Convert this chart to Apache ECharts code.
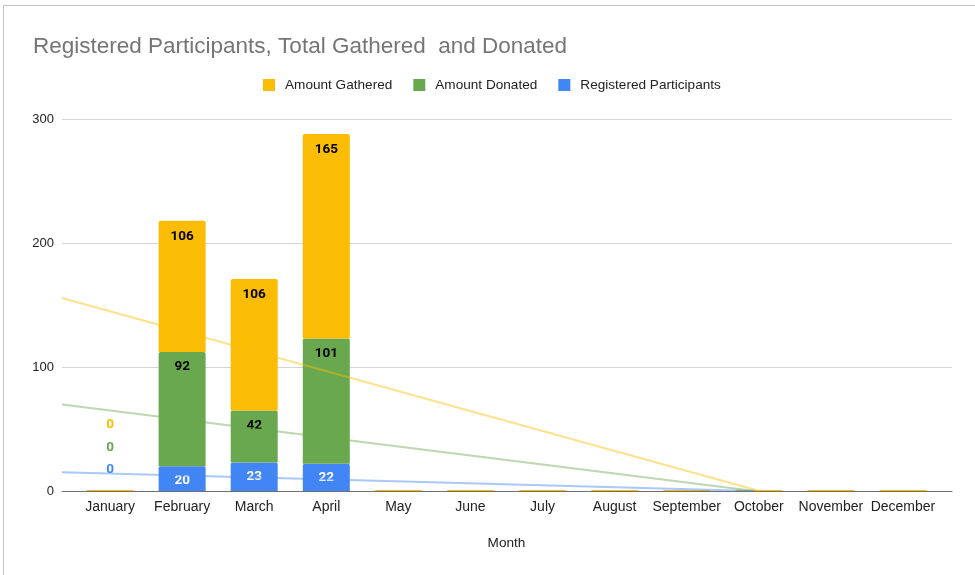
<!DOCTYPE html>
<html><head><meta charset="utf-8">
<script src="https://cdn.jsdelivr.net/npm/echarts@6/dist/echarts.min.js"></script>
<style>html,body{margin:0;padding:0;background:#fff}#c{width:975px;height:575px}</style>
</head><body><div id="c"></div>
<script>
const months = ['January','February','March','April','May','June','July','August','September','October','November','December'];
const registeredParticipants = [0,20,23,22,0,0,0,0,0,0,0,0];
const amountDonated = [0,92,42,101,0,0,0,0,0,0,0,0];
const amountGathered = [0,106,106,165,0,0,0,0,0,0,0,0];
const yTicks = [0,100,200,300];

const COL = {gathered:'#fbbc04', donated:'#6aa84f', part:'#4285f4'};

// plot geometry (layout)
const outerL = 62, outerR = 952, bandL = 74, bandR = 939, plotTop = 119, plotBottom = 491;
const bandW = (bandR - bandL) / months.length;
const xStart = -0.5 - (bandL - outerL) / bandW;
const xEnd = months.length - 0.5 + (outerR - bandR) / bandW;

// trendlines (linear least squares on stacked totals), clipped at 0 like the source chart
function stackTops(arrs){ return months.map((_,i)=>arrs.reduce((s,a)=>s+a[i],0)); }
function trend(vals){
  const n = vals.length; let mx=0,my=0;
  vals.forEach((v,i)=>{mx+=i;my+=v;}); mx/=n; my/=n;
  let sxy=0,sxx=0; vals.forEach((v,i)=>{sxy+=(i-mx)*(v-my);sxx+=(i-mx)*(i-mx);});
  const b = sxy/sxx, a = my - b*mx;
  const xZero = -a/b;
  return [[xStart, a+b*xStart],[xZero, 0]];
}
const trendPart = trend(registeredParticipants);
const trendDon = trend(stackTops([registeredParticipants, amountDonated]));
const trendGat = trend(stackTops([registeredParticipants, amountDonated, amountGathered]));

function barData(arr, color, off){
  return arr.map((v,i)=> i===0 ? {value:v, label:{show:true, position:'top', distance:5, offset:[0,off], color:color}} : v);
}
const labelFmt = p => (p.value===0 && p.dataIndex!==0) ? '' : String(p.value);
const baseLabel = (color, d) => ({show:true, position:'insideTop', distance:d, color:color, fontFamily:'Roboto', fontWeight:'bold', fontSize:13.5, formatter:labelFmt});
const FONT = 'Liberation Sans, Arial';

const chart = echarts.init(document.getElementById('c'), null, {renderer:'canvas'});
chart.setOption({
  animation:false,
  backgroundColor:'#fff',
  title:{text:'Registered Participants, Total Gathered  and Donated', left:28, top:30,
    textStyle:{fontFamily:FONT, fontSize:22.5, fontWeight:'normal', color:'#757575'}},
  legend:{left:258, top:73, itemWidth:12, itemHeight:12, itemGap:21, icon:'rect',
    data:['Amount Gathered','Amount Donated','Registered Participants'],
    textStyle:{fontFamily:FONT, fontSize:13.6, color:'#222', padding:[0,0,0,5]}},
  grid:[
    {left:outerL, right:975-outerR, top:plotTop, bottom:575-plotBottom},
    {left:bandL, right:975-bandR, top:plotTop, bottom:575-plotBottom}
  ],
  xAxis:[
    {type:'category', gridIndex:0, data:months, axisLine:{show:true, lineStyle:{color:'#6f6f6f', width:1}}, axisTick:{show:false}, axisLabel:{show:false}},
    {type:'category', gridIndex:1, data:months, axisLine:{show:false}, axisTick:{show:false},
      axisLabel:{margin:9, fontFamily:FONT, fontSize:14, color:'#222', interval:0},
      name:'Month', nameLocation:'middle', nameGap:45, nameTextStyle:{fontFamily:FONT, fontSize:13.6, color:'#222'}},
    {type:'value', gridIndex:0, min:xStart, max:xEnd, show:false}
  ],
  yAxis:[
    {type:'value', gridIndex:0, min:0, max:yTicks[yTicks.length-1], interval:yTicks[1]-yTicks[0],
      axisLine:{show:false}, axisTick:{show:false},
      axisLabel:{margin:8, fontFamily:FONT, fontSize:13, color:'#222'},
      splitLine:{lineStyle:{color:'#d4d4d4', width:1}}},
    {type:'value', gridIndex:1, min:0, max:yTicks[yTicks.length-1], interval:yTicks[1]-yTicks[0], show:false, splitLine:{show:false}}
  ],
  series:[
    {name:'Registered Participants', type:'bar', xAxisIndex:1, yAxisIndex:1, stack:'s', barWidth:47,
      itemStyle:{color:COL.part, borderRadius:[2,2,0,0]}, label:baseLabel('#fff', 7), data:barData(registeredParticipants, COL.part, -9), z:2},
    {name:'Amount Donated', type:'bar', xAxisIndex:1, yAxisIndex:1, stack:'s', barWidth:47,
      itemStyle:{color:COL.donated, borderRadius:[2,2,0,0]}, label:baseLabel('#000', 8), data:barData(amountDonated, COL.donated, -31), z:2},
    {name:'Amount Gathered', type:'bar', xAxisIndex:1, yAxisIndex:1, stack:'s', barWidth:47, barMinHeight:1,
      itemStyle:{color:COL.gathered, borderRadius:[2,2,0,0]}, label:baseLabel('#000', 9), data:barData(amountGathered, COL.gathered, -53), z:2},
    {type:'line', xAxisIndex:2, yAxisIndex:0, data:trendGat, symbol:'none', lineStyle:{color:COL.gathered, opacity:0.45, width:2}, z:2, silent:true},
    {type:'line', xAxisIndex:2, yAxisIndex:0, data:trendDon, symbol:'none', lineStyle:{color:COL.donated, opacity:0.45, width:2}, z:2, silent:true},
    {type:'line', xAxisIndex:2, yAxisIndex:0, data:trendPart, symbol:'none', lineStyle:{color:COL.part, opacity:0.45, width:2}, z:2, silent:true}
  ],
  graphic:[
    {type:'line', shape:{x1:3.5, y1:5, x2:3.5, y2:575}, style:{stroke:'#c4c4c4', lineWidth:1}, silent:true},
    {type:'line', shape:{x1:3, y1:5.5, x2:975, y2:5.5}, style:{stroke:'#c4c4c4', lineWidth:1}, silent:true}
  ]
});
</script></body></html>
